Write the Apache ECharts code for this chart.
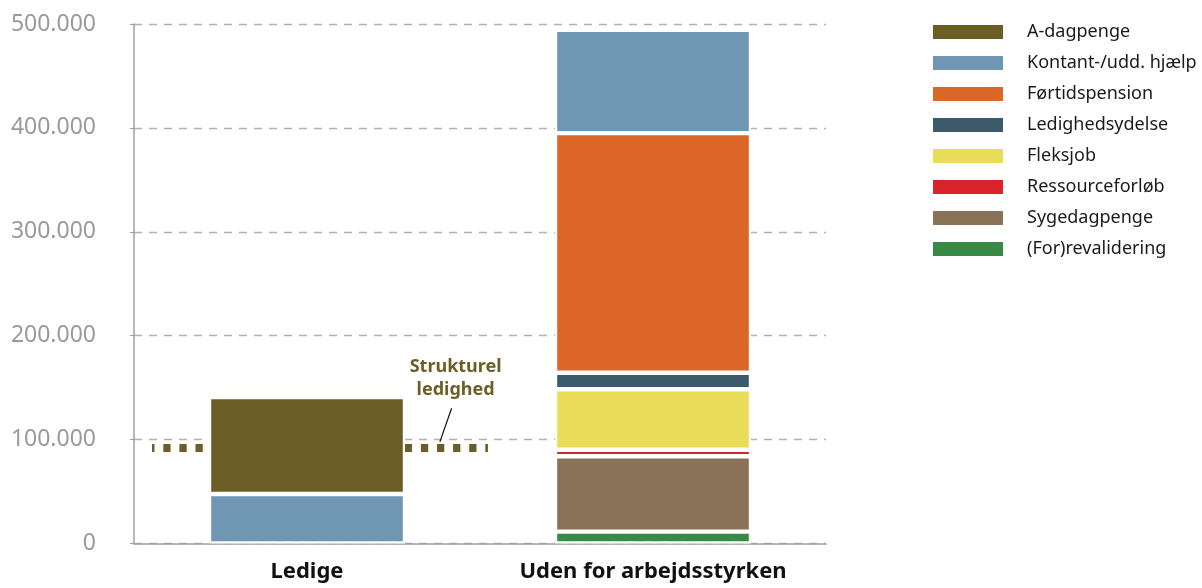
<!DOCTYPE html>
<html>
<head>
<meta charset="utf-8">
<script src="https://cdn.jsdelivr.net/npm/echarts@6/dist/echarts.min.js"></script>
<style>
  html, body { margin: 0; padding: 0; background: #fff; }
  #chart { width: 1202px; height: 588px; }
</style>
</head>
<body>
<div id="chart"></div>
<script>
// ==================== 数据 ====================

const categories = ['Ledige', 'Uden for arbejdsstyrken'];

// stablet nedefra og op
const revalidering = ['-', 11400];
const sygedagpenge = ['-', 72600];
const ressourceforloeb = ['-', 6300];
const fleksjob = ['-', 58200];
const ledighedsydelse = ['-', 15900];
const foertidspension = ['-', 230600];
const kontant = [47600, 99300];
const aDagpenge = [93400, '-'];

const yTicks = [0, 100000, 200000, 300000, 400000, 500000];

// strukturel ledighed (x i kategori-enheder)
const strukturelLinje = [[0.052, 92000], [1.023, 92000]];
const strukturelPil = [[0.884, 97800], [0.918, 130200]];

const legendOrder = ['A-dagpenge', 'Kontant-/udd. hjælp', 'Førtidspension', 'Ledighedsydelse',
  'Fleksjob', 'Ressourceforløb', 'Sygedagpenge', '(For)revalidering'];

// ==================== 图表 ====================

const FONT = '"Noto Sans", "Open Sans", sans-serif';
const OLIVE = '#6b5f27';

function barSeries(name, data, color) {
  return {
    name: name,
    type: 'bar',
    stack: 'total',
    data: data,
    barWidth: 196,
    z: 3,
    itemStyle: { color: color, borderColor: '#ffffff', borderWidth: 2.2 }
  };
}

const chart = echarts.init(document.getElementById('chart'));

chart.setOption({
  animation: false,
  backgroundColor: '#ffffff',
  grid: { left: 134, right: 376, top: 24, bottom: 44.5 },
  legend: {
    orient: 'vertical',
    left: 926,
    top: 18,
    padding: 5,
    itemWidth: 72,
    itemHeight: 16,
    itemGap: 13,
    icon: 'rect',
    data: legendOrder,
    textStyle: { fontFamily: FONT, fontSize: 18, color: '#1a1a1a', padding: [0, 0, 0, 18] }
  },
  xAxis: [
    {
      type: 'category',
      data: categories,
      axisLine: { lineStyle: { color: '#a0a0a0', width: 1.5 } },
      axisTick: { show: false },
      axisLabel: {
        interval: 0,
        fontFamily: FONT, fontSize: 22, fontWeight: 'bold', color: '#111111', margin: 17
      }
    },
    { type: 'value', min: 0, max: 2, show: false }
  ],
  yAxis: {
    type: 'value',
    min: yTicks[0],
    max: yTicks[yTicks.length - 1],
    interval: yTicks[1] - yTicks[0],
    axisLine: { show: true, lineStyle: { color: '#a0a0a0', width: 1.5 } },
    axisTick: { show: true, length: 4, lineStyle: { color: '#a0a0a0' } },
    axisLabel: {
      fontFamily: FONT, fontSize: 23, color: '#9a9a9a', margin: 38,
      formatter: v => v === 0 ? '0' : v.toLocaleString('da-DK')
    },
    splitLine: { lineStyle: { color: '#b0b0b0', width: 1.3, type: [8, 7] } }
  },
  series: [
    barSeries('(For)revalidering', revalidering, '#378b44'),
    barSeries('Sygedagpenge', sygedagpenge, '#8a7259'),
    barSeries('Ressourceforløb', ressourceforloeb, '#d92229'),
    barSeries('Fleksjob', fleksjob, '#e9dc59'),
    barSeries('Ledighedsydelse', ledighedsydelse, '#3d5a6c'),
    barSeries('Førtidspension', foertidspension, '#dc6628'),
    barSeries('Kontant-/udd. hjælp', kontant, '#6f96b3'),
    barSeries('A-dagpenge', aDagpenge, OLIVE),
    {
      name: 'strukturel',
      type: 'line',
      xAxisIndex: 1,
      data: strukturelLinje,
      symbol: 'none',
      z: 2,
      silent: true,
      lineStyle: { color: OLIVE, width: 8, type: [7.3, 8.8], dashOffset: 4.8, cap: 'butt' }
    },
    {
      name: 'pil',
      type: 'line',
      xAxisIndex: 1,
      symbol: 'circle',
      symbolSize: 0,
      showSymbol: true,
      z: 4,
      silent: true,
      lineStyle: { color: '#111111', width: 1.2 },
      data: [
        strukturelPil[0],
        {
          value: strukturelPil[1],
          label: {
            show: true,
            position: 'top',
            distance: 7,
            offset: [4, 0],
            formatter: 'Strukturel\nledighed',
            fontFamily: FONT,
            fontSize: 18,
            fontWeight: 'bold',
            lineHeight: 23,
            color: OLIVE
          }
        }
      ]
    }
  ]
});
</script>
</body>
</html>
